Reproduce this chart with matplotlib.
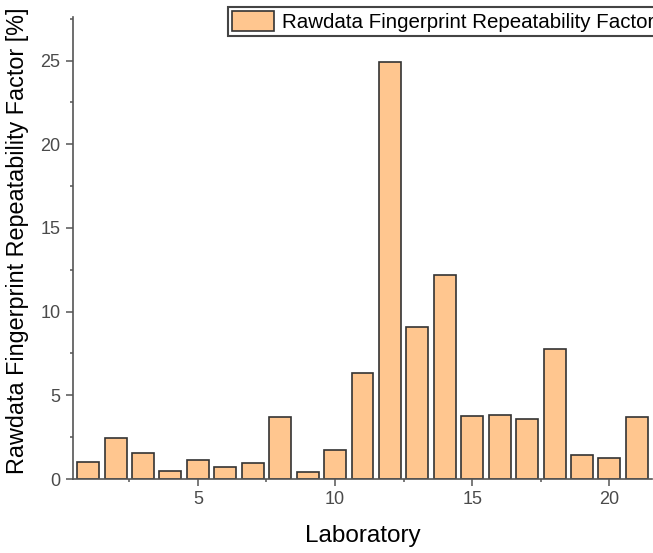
import numpy as np
import matplotlib
matplotlib.use('Agg')
import matplotlib.pyplot as plt
from matplotlib.ticker import MultipleLocator

# Данные: номер лаборатории и фактор повторяемости
laboratories = list(range(1, 22))
repeatability = [1.0, 2.47, 1.57, 0.5, 1.13, 0.74, 0.98, 3.72, 0.4, 1.73, 6.35,
                 24.9, 9.08, 12.19, 3.77, 3.83, 3.59, 7.77, 1.43, 1.27, 3.72]

plt.rcParams['font.family'] = ['Liberation Sans', 'DejaVu Sans']

fig = plt.figure(figsize=(6.53, 5.53), dpi=100)
ax = fig.add_axes([73 / 653, 74 / 553, 579 / 653, 462 / 553])

bars = ax.bar(laboratories, repeatability, width=0.8, color='#FFC68F',
              edgecolor='#333333', linewidth=1.2,
              label='Rawdata Fingerprint Repeatability Factor')

ax.set_xlim(0.45, 21.55)
ax.set_ylim(0, 27.6)

ax.xaxis.set_major_locator(MultipleLocator(5))
ax.xaxis.set_minor_locator(MultipleLocator(2.5))
ax.yaxis.set_major_locator(MultipleLocator(5))
ax.yaxis.set_minor_locator(MultipleLocator(2.5))

# Только левая и нижняя оси
ax.spines['top'].set_visible(False)
ax.spines['right'].set_visible(False)
for s in ('left', 'bottom'):
    ax.spines[s].set_color('#555555')
    ax.spines[s].set_linewidth(1.2)

ax.tick_params(which='major', direction='out', length=5, width=1.1,
               color='#555555', labelsize=13, labelcolor='#4a4a4a', pad=4)
ax.tick_params(which='minor', direction='out', length=2.5, width=1.1,
               color='#555555')

ax.set_xlabel('Laboratory', fontsize=17.5)
ax.set_ylabel('Rawdata Fingerprint Repeatability Factor [%]', fontsize=16.8)
ax.xaxis.set_label_coords(0.5, -0.1)
ax.yaxis.set_label_coords(-0.076, 0.515)

leg = ax.legend(loc='upper left', bbox_to_anchor=(228 / 653, 1 - 7 / 553),
                bbox_transform=fig.transFigure, fontsize=14.8,
                fancybox=False, framealpha=1, edgecolor='#444444',
                handlelength=2.05, handleheight=1.15, handletextpad=0.4,
                borderpad=0.18, borderaxespad=0)
leg.get_frame().set_linewidth(1.5)

fig.savefig('out.png', dpi=100)
